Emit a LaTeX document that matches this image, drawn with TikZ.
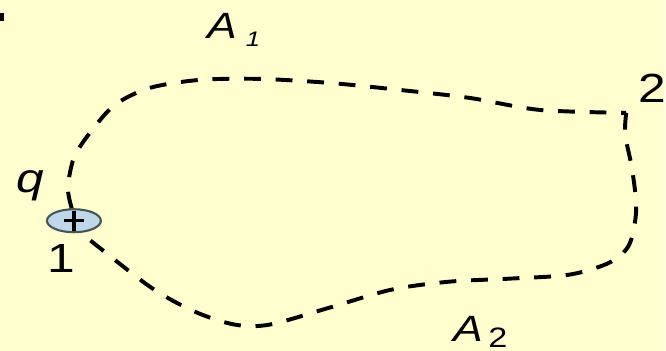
\documentclass[tikz,border=0pt]{standalone}
\usepackage{fontspec}
\setmainfont{Liberation Sans}[FakeStretch=1.22]
\usetikzlibrary{shapes.geometric}
\definecolor{paper}{RGB}{255,254,206}
\definecolor{chargefill}{RGB}{190,216,234}
\definecolor{chargeedge}{RGB}{70,85,85}
\begin{document}
\begin{tikzpicture}[x=0.025cm, y=-0.025cm,
    lbl/.style={font=\fontsize{29}{33}\selectfont, inner sep=0pt},
    arclbl/.style={font=\fontsize{26}{30}\selectfont, inner sep=0pt},
    route/.style={line width=2.8pt, dash pattern=on 12pt off 10.5pt},
    plusbar/.style={line width=2.4pt}]
  \fill[paper] (0,0) rectangle (666,351);
  \fill[black] (0,13) rectangle (4,21);
  \node[ellipse, draw=chargeedge, line width=1.5pt, fill=chargefill, minimum width=1.35cm, minimum height=0.575cm, inner sep=0pt] (q1) at (74,221) {};
  \draw[plusbar] (q1.center) ++(-10,0) -- ++(20,0);
  \draw[plusbar] (q1.center) ++(0,-10) -- ++(0,20);
  \coordinate (p2) at (627,113);
  \draw[route] plot[smooth] coordinates {(q1.100) (68,188) (74,158) (90,133) (115,105) (150,88) (200,80) (260,79) (330,83) (400,90) (470,98) (540,110) (p2)};
  \draw[route] plot[smooth] coordinates {(p2) (626,135) (633,170) (637,210) (630,245) (610,263) (570,275) (510,279) (450,282) (392,290) (330,308) (270,325) (235,325) (195,312) (150,287) (q1.-60)};
  \node[lbl, anchor=base] (lq) at (30,193) {\textit{q}};
  \node[lbl, anchor=base] (l1) at (61,273) {1};
  \node[lbl, anchor=base] (l2) at (653,103) {2};
  \node[arclbl, anchor=base west] (lA1) at (207,39) {\textit{A}\kern6.5pt\raisebox{-5.7pt}{\fontsize{15}{18}\selectfont\textit{1}}};
  \node[arclbl, anchor=base west] (lA2) at (454,342) {\textit{A}\kern3.5pt\raisebox{-4.3pt}{\fontsize{20}{24}\selectfont 2}};
\end{tikzpicture}
\end{document}
